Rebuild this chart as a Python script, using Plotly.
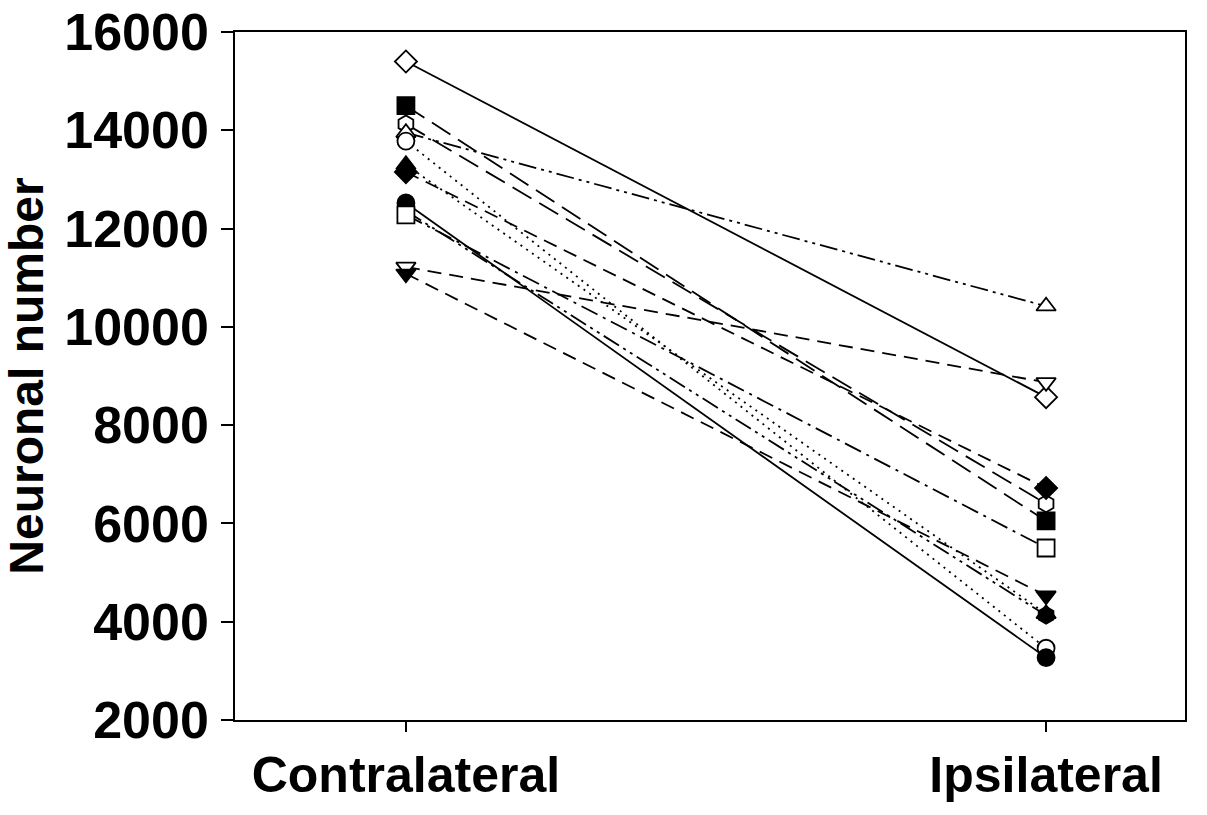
import plotly.graph_objects as go

categories = ["Contralateral", "Ipsilateral"]
x_pos = [0, 1]

series_names = ["A", "B", "C", "D", "E", "F", "G", "H", "I", "J", "K", "L"]
contralateral = [15400, 14500, 14130, 13950, 13780, 13300, 13150, 12520, 12360, 12280, 11220, 11080]
ipsilateral = [8570, 6050, 6400, 10420, 3460, 4160, 6720, 3270, 4130, 5500, 8870, 4530]
symbols = ["diamond", "square", "hexagon", "triangle-up", "circle", "triangle-up",
           "diamond", "circle", "hexagon", "square", "triangle-down", "triangle-down"]
filled = [False, True, False, False, False, True, True, True, True, False, False, True]
dashes = ["solid", "22px,9px", "22px,9px", "18px,5px,3px,5px,3px,5px", "2px,5px", "2px,5px",
          "14px,8px", "solid", "18px,5px,3px,5px,3px,5px", "18px,6px,3px,6px", "14px,8px", "14px,8px"]

y_tickvals = [2000, 4000, 6000, 8000, 10000, 12000, 14000, 16000]
y_ticktext = ["2000", "4000", "6000", "8000", "10000", "12000", "14000", "16000"]

fig = go.Figure()
for i, name in enumerate(series_names):
    fig.add_trace(go.Scatter(
        x=x_pos, y=[contralateral[i], ipsilateral[i]],
        mode="lines+markers", name=name,
        line=dict(color="black", width=1.8, dash=dashes[i]),
        marker=dict(symbol=symbols[i], size=17,
                    color="black" if filled[i] else "white",
                    line=dict(color="black", width=1.8)),
        showlegend=False,
    ))

font_family = "Liberation Sans, Arial, sans-serif"
fig.update_layout(
    width=1207, height=815,
    margin=dict(l=235, r=22, t=32, b=95, autoexpand=False),
    paper_bgcolor="white", plot_bgcolor="white",
    font=dict(family=font_family, color="black"),
)
fig.update_xaxes(
    range=[-0.267, 1.217], tickvals=x_pos, ticktext=categories,
    showline=True, linecolor="black", linewidth=1.5, mirror=True,
    ticks="outside", ticklen=10, tickwidth=1.5, tickcolor="black",
    showgrid=False, zeroline=False, automargin=False,
    ticklabeloverflow="allow",
    tickfont=dict(size=50, family=font_family, weight="bold"),
)
fig.update_yaxes(
    range=[2000, 16000], tickvals=y_tickvals, ticktext=y_ticktext,
    showline=True, linecolor="black", linewidth=1.5, mirror=True,
    ticks="outside", ticklen=12, tickwidth=1.5, tickcolor="black",
    ticklabelstandoff=2, ticklabeloverflow="allow",
    showgrid=False, zeroline=False, automargin=False,
    tickfont=dict(size=52, family=font_family, weight="bold"),
    title=dict(text="Neuronal number", font=dict(size=48, family=font_family, weight="bold"), standoff=6),
)
fig.write_html("out.html", config={"displayModeBar": False},
               post_script="document.body.style.margin='0px';")
